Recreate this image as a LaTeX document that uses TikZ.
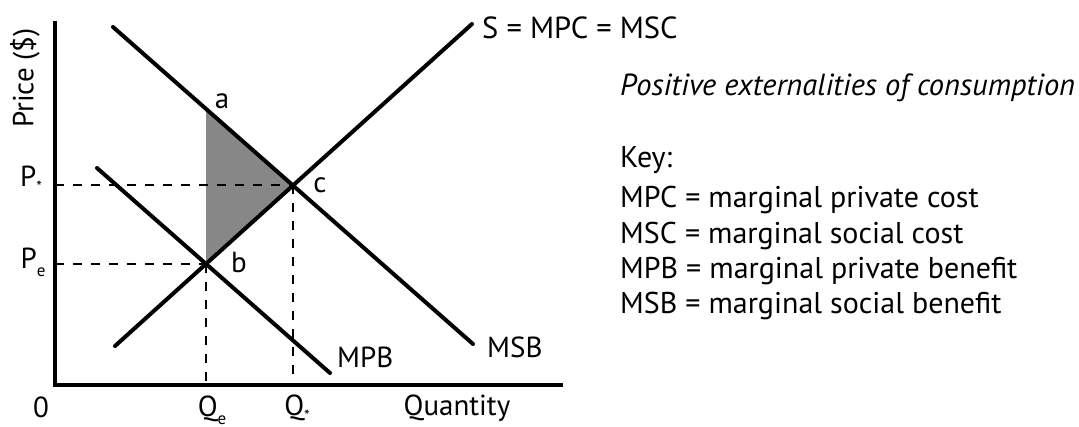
\documentclass[tikz,border=0pt]{standalone}
\usepackage{fontspec}
\setmainfont{PT Sans}
\begin{document}
\begin{tikzpicture}[x=1pt,y=-1pt,
  curve/.style={line width=4pt,line cap=round},
  axisline/.style={line width=4.5pt},
  guide/.style={line width=2.4pt,dash pattern=on 9pt off 9pt},
  lbl/.style={inner sep=0pt,font=\fontsize{29}{34}\selectfont},
  keytxt/.style={inner sep=0pt,anchor=west,font=\fontsize{30}{35}\selectfont}]
\useasboundingbox (0,0) rectangle (1079,427);
% key points
\coordinate (origin) at (55,385);
\coordinate (ytop) at (55,21);
\coordinate (xend) at (563,385);
\coordinate (stop) at (472,24);
\coordinate (sbot) at (115,346);
\coordinate (msbtop) at (113,27);
\coordinate (msbbot) at (473,344);
\coordinate (mpbtop) at (97,168);
\coordinate (mpbbot) at (330,373);
\coordinate (a) at (206,109);
\coordinate (b) at (206,264);
\coordinate (c) at (293,185);
\coordinate (pstar) at (55,185);
\coordinate (pe) at (55,264);
\coordinate (qe) at (206,385);
\coordinate (qstar) at (293,385);
% shaded triangle
\fill[fill={rgb,255:red,135;green,135;blue,135}] (a) -- (b) -- (c) -- cycle;
% guides
\draw[guide] (pstar) -- (c);
\draw[guide] (pe) -- (b);
\draw[guide] (b) -- (qe);
\draw[guide] (c) -- (qstar);
% curves
\draw[curve] (sbot) -- (stop);
\draw[curve] (msbtop) -- (msbbot);
\draw[curve] (mpbtop) -- (mpbbot);
% axes
\draw[axisline] (ytop) -- (origin) -- (xend);
% labels
\node[lbl,rotate=90] (price) at (25,78) {Price (\$)};
\node[lbl] (lpstar) at (31,179) {P\raisebox{-6pt}{\fontsize{16}{16}\selectfont *}};
\node[lbl] (lpe) at (33,262) {P\raisebox{-8pt}{\fontsize{17}{17}\selectfont e}};
\node[lbl] (lzero) at (41,407) {0};
\node[lbl] (lqe) at (212,410) {Q\raisebox{-8pt}{\fontsize{17}{17}\selectfont e}};
\node[lbl] (lqstar) at (297,408) {Q\raisebox{-6pt}{\fontsize{16}{16}\selectfont *}};
\node[lbl] (lquant) at (457,408) {Quantity};
\node[lbl] (la) at (222,101) {a};
\node[lbl] (lb) at (239,262) {b};
\node[lbl] (lc) at (320,185) {c};
\node[lbl,anchor=west] (lmpb) at (337,357) {MPB};
\node[lbl,anchor=west] (lmsb) at (487,347) {MSB};
\node[lbl,anchor=west,font=\fontsize{30.5}{35}\selectfont] (ls) at (482,28) {S = MPC = MSC};
\node[keytxt,font=\fontsize{30.5}{36}\selectfont\itshape] (title) at (620,88) {Positive externalities of consumption};
\node[keytxt] (key) at (620,160) {Key:};
\node[keytxt] (k1) at (620,200) {MPC = marginal private cost};
\node[keytxt] (k2) at (620,236) {MSC = marginal social cost};
\node[keytxt] (k3) at (620,271) {MPB = marginal private benefit};
\node[keytxt] (k4) at (620,306) {MSB = marginal social benefit};
\end{tikzpicture}
\end{document}
